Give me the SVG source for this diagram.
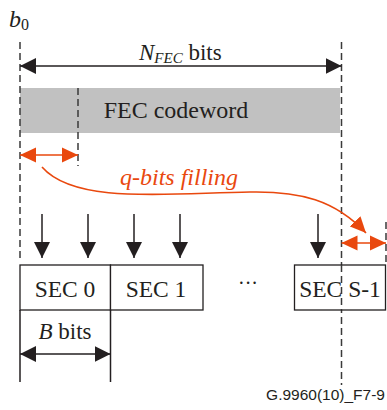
<svg xmlns="http://www.w3.org/2000/svg" width="387" height="410" viewBox="0 0 387 410">
<style>
.t{font-family:'Liberation Serif','Times New Roman',Times,'DejaVu Serif',serif;fill:#231f20}
.i{font-style:italic}
.o{fill:#e9480e}
.dash{stroke:#3a3a3a;stroke-width:1.5;stroke-dasharray:7 4;fill:none}
.ln{stroke:#231f20;stroke-width:1.5;fill:none}
.box{stroke:#231f20;stroke-width:1.3;fill:#fff}
.or{stroke:#e9480e;stroke-width:1.6;fill:none}
</style>
<defs>
<marker id="ab" markerUnits="userSpaceOnUse" markerWidth="16" markerHeight="16" viewBox="0 0 14 14" refX="14" refY="7" orient="auto-start-reverse"><path d="M0,0 L14,7 L0,14 z" fill="#231f20"/></marker>
<marker id="ao" markerUnits="userSpaceOnUse" markerWidth="16" markerHeight="16" viewBox="0 0 14 14" refX="14" refY="7" orient="auto-start-reverse"><path d="M0,0.5 L14,7 L0,13.5 z" fill="#e9480e"/></marker>
</defs>
<g id="background">
<rect x="20" y="88" width="320" height="45" fill="#c1c1c1"/>
<text class="t" x="176" y="118" font-size="24" text-anchor="middle">FEC codeword</text>
</g>
<g id="guides">
<line class="dash" x1="20" y1="42" x2="20" y2="262"/>
<line class="dash" x1="341.5" y1="42" x2="341.5" y2="385"/>
<line class="dash" x1="78" y1="88" x2="78" y2="166"/>
<line class="dash" x1="386" y1="222" x2="386" y2="265"/>
</g>
<g id="labels">
<text class="t i" x="9" y="27" font-size="24">b<tspan font-size="16" font-style="normal" dy="3">0</tspan></text>
<text class="t" x="139" y="60" font-size="23"><tspan class="i">N</tspan><tspan class="i" font-size="15" dy="3">FEC</tspan><tspan dy="-3"> bits</tspan></text>
<text class="t i o" x="120" y="185" font-size="24">q-bits filling</text>
<text class="t" x="248" y="290" font-size="20" text-anchor="middle">···</text>
<text x="385" y="400" font-family="Liberation Sans, Arial, sans-serif" font-size="15.5" fill="#231f20" text-anchor="end">G.9960(10)_F7-9</text>
</g>
<g id="sec0">
<rect class="box" x="20" y="265" width="90.5" height="45"/>
<text class="t" x="65" y="297" font-size="23.5" text-anchor="middle">SEC 0</text>
</g>
<g id="sec1">
<rect class="box" x="110.5" y="265" width="92.5" height="45"/>
<text class="t" x="156" y="297" font-size="23.5" text-anchor="middle">SEC 1</text>
</g>
<g id="secS1">
<rect class="box" x="294.5" y="265" width="91" height="45"/>
<text class="t" x="340" y="297" font-size="23.5" text-anchor="middle">SEC S-1</text>
<line class="dash" x1="341.5" y1="265" x2="341.5" y2="310"/>
</g>
<g id="bbits">
<line class="ln" x1="20" y1="310" x2="20" y2="382"/>
<line class="ln" x1="110.5" y1="310" x2="110.5" y2="382"/>
<text class="t" x="65" y="339" font-size="23" text-anchor="middle"><tspan class="i">B</tspan> bits</text>
</g>
<g id="connectors">
<line class="ln" x1="20" y1="66" x2="341.5" y2="66" marker-start="url(#ab)" marker-end="url(#ab)"/>
<line class="or" x1="20" y1="155" x2="78" y2="155" marker-start="url(#ao)" marker-end="url(#ao)"/>
<line class="or" x1="341.5" y1="243" x2="386" y2="243" marker-start="url(#ao)" marker-end="url(#ao)"/>
<path class="or" d="M42,167 C75,205 170,193 250,192 C300,191 335,200 366,233" marker-end="url(#ao)"/>
<line class="ln" x1="42" y1="214" x2="42" y2="258" marker-end="url(#ab)"/>
<line class="ln" x1="88" y1="214" x2="88" y2="258" marker-end="url(#ab)"/>
<line class="ln" x1="134" y1="214" x2="134" y2="258" marker-end="url(#ab)"/>
<line class="ln" x1="180" y1="214" x2="180" y2="258" marker-end="url(#ab)"/>
<line class="ln" x1="318" y1="214" x2="318" y2="258" marker-end="url(#ab)"/>
<line class="ln" x1="20" y1="354" x2="110.5" y2="354" marker-start="url(#ab)" marker-end="url(#ab)"/>
</g>
</svg>
